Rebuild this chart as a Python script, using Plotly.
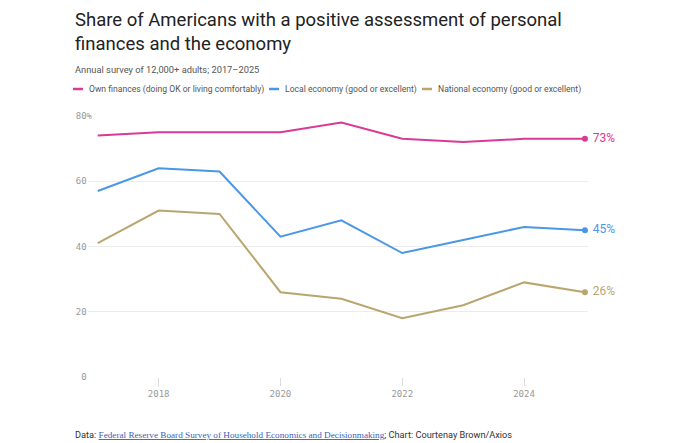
import plotly.graph_objects as go

years = [2017, 2018, 2019, 2020, 2021, 2022, 2023, 2024, 2025]
own_finances = [74, 75, 75, 75, 78, 73, 72, 73, 73]
local_economy = [57, 64, 63, 43, 48, 38, 42, 46, 45]
national_economy = [41, 51, 50, 26, 24, 18, 22, 29, 26]

series_names = [
    "Own finances (doing OK or living comfortably)",
    "Local economy (good or excellent)",
    "National economy (good or excellent)",
]
series_values = [own_finances, local_economy, national_economy]
colors = ["#d83a95", "#4a97e6", "#b9a66f"]

y_ticks = [0, 20, 40, 60, 80]
y_ticktext = ["0\u00a0", "20\u00a0", "40\u00a0", "60\u00a0", "80%"]
x_ticks = [2018, 2020, 2022, 2024]

# page has an 8px body margin (top/left), so work in page pixels and shift by it
OFF = 8
W, H = 680 - OFF, 443 - OFF
L, R, T, B = 88 - OFF, 92, 116 - OFF, 66
PW, PH = W - L - R, H - T - B


def px(x):
    return (x - OFF - L) / PW


def py(y):
    return (H - B - (y - OFF)) / PH


fig = go.Figure()
for name, vals, c in zip(series_names, series_values, colors):
    fig.add_trace(go.Scatter(x=years, y=vals, mode="lines", name=name,
                             line=dict(color=c, width=2), hoverinfo="skip"))
    fig.add_trace(go.Scatter(x=[years[-1]], y=[vals[-1]], mode="markers+text",
                             marker=dict(color=c, size=6), cliponaxis=False,
                             text=[f" {vals[-1]}%"], textposition="middle right",
                             textfont=dict(family="Roboto", size=12, color=c),
                             hoverinfo="skip"))

mono = "DejaVu Sans Mono"
fig.update_xaxes(range=[2016.84, 2025.05], tickvals=x_ticks, showgrid=False,
                 ticks="outside", ticklen=8, tickcolor="#dddddd", tickwidth=1,
                 tickfont=dict(family=mono, size=9, color="#999999"),
                 showline=False, zeroline=False)
fig.update_yaxes(range=[0, 80], tickvals=y_ticks, ticktext=y_ticktext,
                 showgrid=True, gridcolor="#ececec", gridwidth=1, zeroline=False,
                 tickfont=dict(family=mono, size=9, color="#999999"),
                 ticklabelstandoff=-5)

annotations = [
    dict(x=px(73), y=py(7), xanchor="left", yanchor="top", align="left",
         text="Share of Americans with a positive assessment of personal<br>finances and the economy",
         font=dict(family="Roboto", size=18.5, color="#222222")),
    dict(x=px(73), y=py(69), xanchor="left", yanchor="middle",
         text="Annual survey of 12,000+ adults; 2017–2025",
         font=dict(family="Roboto", size=9.3, color="#555555")),
    dict(x=px(73), y=py(434), xanchor="left", yanchor="middle",
         text="Data: <a href='https://www.federalreserve.gov/consumerscommunities/shed.htm'>"
              "<span style='font-family:Liberation Serif;color:#3d5fb8;text-decoration:underline'>"
              "Federal Reserve Board Survey of Household Economics and Decisionmaking</span></a>"
              "; Chart: Courtenay Brown/Axios",
         font=dict(family="Roboto", size=9.2, color="#333333")),
]
shapes = []
legend_x = [(73, 87), (269, 283), (422, 436)]
for (sx, tx), name, c in zip(legend_x, series_names, colors):
    shapes.append(dict(type="line", xref="paper", yref="paper",
                       x0=px(sx), x1=px(sx + 10), y0=py(89), y1=py(89),
                       line=dict(color=c, width=2.5)))
    annotations.append(dict(x=px(tx), y=py(89), xanchor="left", yanchor="middle",
                            text=name, font=dict(family="Roboto", size=8.6, color="#555555")))

for a in annotations:
    a.update(xref="paper", yref="paper", showarrow=False)

fig.update_layout(width=W, height=H, margin=dict(l=L, r=R, t=T, b=B),
                  plot_bgcolor="white", paper_bgcolor="white", showlegend=False,
                  annotations=annotations, shapes=shapes)
fig.write_html("out.html")
